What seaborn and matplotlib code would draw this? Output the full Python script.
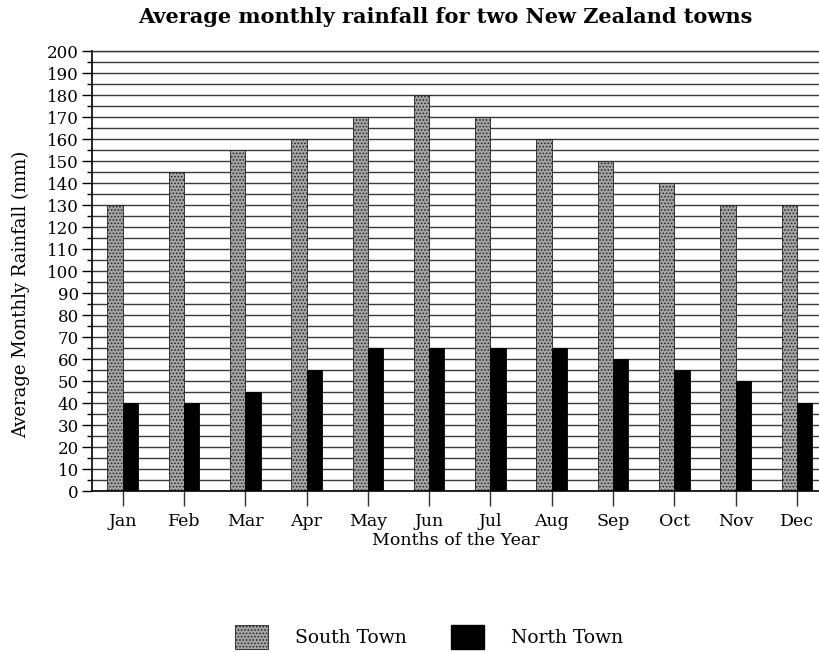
import matplotlib
matplotlib.use("Agg")
import matplotlib.pyplot as plt
import matplotlib.patches as mpatches
from matplotlib.ticker import MultipleLocator
import seaborn as sns
import pandas as pd

months = ["Jan", "Feb", "Mar", "Apr", "May", "Jun", "Jul", "Aug", "Sep", "Oct", "Nov", "Dec"]
south_town = [130, 145, 155, 160, 170, 180, 170, 160, 150, 140, 130, 130]
north_town = [40, 40, 45, 55, 65, 65, 65, 65, 60, 55, 50, 40]
series_names = ["South Town", "North Town"]

df = pd.DataFrame({
    "Month": months * 2,
    "Rainfall": south_town + north_town,
    "Town": [series_names[0]] * len(months) + [series_names[1]] * len(months),
})

sns.set_theme(style="white")
plt.rcParams["font.family"] = ["DejaVu Serif"]
plt.rcParams["hatch.linewidth"] = 0.7
for k in ["text.color", "axes.labelcolor", "xtick.color", "ytick.color"]:
    plt.rcParams[k] = "black"

FS = 12.5
SOUTH_FACE = "#a4a4a4"
fig = plt.figure(figsize=(8.2, 6.52), dpi=100)
ax = fig.add_axes([92 / 820, 1 - 491 / 652, 1 - 92 / 820, (491 - 51) / 652])

palette = {series_names[0]: SOUTH_FACE, series_names[1]: "black"}
sns.barplot(data=df, x="Month", y="Rainfall", hue="Town", order=months,
            hue_order=series_names, palette=palette, width=0.5, saturation=1,
            legend=False, ax=ax, edgecolor="black", linewidth=0.6)

n = len(months)
for i, p in enumerate(ax.patches):
    if i < n:
        p.set_hatch(".....")
        p.set_edgecolor("#202020")

ax.set_xlim(-0.5, -0.5 + 728 / 61.3)
ax.set_ylim(0, 200)
ax.yaxis.set_major_locator(MultipleLocator(10))
ax.yaxis.set_minor_locator(MultipleLocator(5))
ax.set_axisbelow(True)
ax.grid(True, which="both", axis="y", color="#3a3a3a", linewidth=1.0)
ax.grid(False, axis="x")

ax.tick_params(axis="y", which="major", length=7.5, width=1, color="black",
               labelsize=12, pad=2, left=True)
ax.tick_params(axis="y", which="minor", length=3.5, width=1, color="black", left=True)
ax.tick_params(axis="x", which="major", length=11, width=1, color="#333333",
               labelsize=FS, pad=5, bottom=True)

for s in ["left", "bottom"]:
    ax.spines[s].set_color("black")
    ax.spines[s].set_linewidth(1.2)
ax.spines["right"].set_visible(False)
ax.spines["top"].set_color("#3a3a3a")
ax.spines["top"].set_linewidth(1.0)

ax.set_xlabel("Months of the Year", fontsize=FS, labelpad=1)
ax.set_ylabel("Average Monthly Rainfall (mm)", fontsize=13)
ax.yaxis.set_label_coords(-62 / 728, (491 - 294) / 440)

fig.text(445 / 820, 1 - 17 / 652, "Average monthly rainfall for two New Zealand towns",
         ha="center", va="center", fontsize=15, fontweight="bold")

LFS = 13.5
handles = [
    mpatches.Patch(facecolor=SOUTH_FACE, edgecolor="#202020", hatch=".....", linewidth=0.6, label=series_names[0]),
    mpatches.Patch(facecolor="black", edgecolor="black", label=series_names[1]),
]
fig.legend(handles=handles, loc="center", bbox_to_anchor=(429 / 820, 1 - 637 / 652),
           ncol=2, frameon=False, fontsize=LFS, handlelength=1.76, handleheight=1.6,
           handletextpad=1.4, columnspacing=2.4, borderpad=0.2)

fig.savefig("out.png", dpi=100)
